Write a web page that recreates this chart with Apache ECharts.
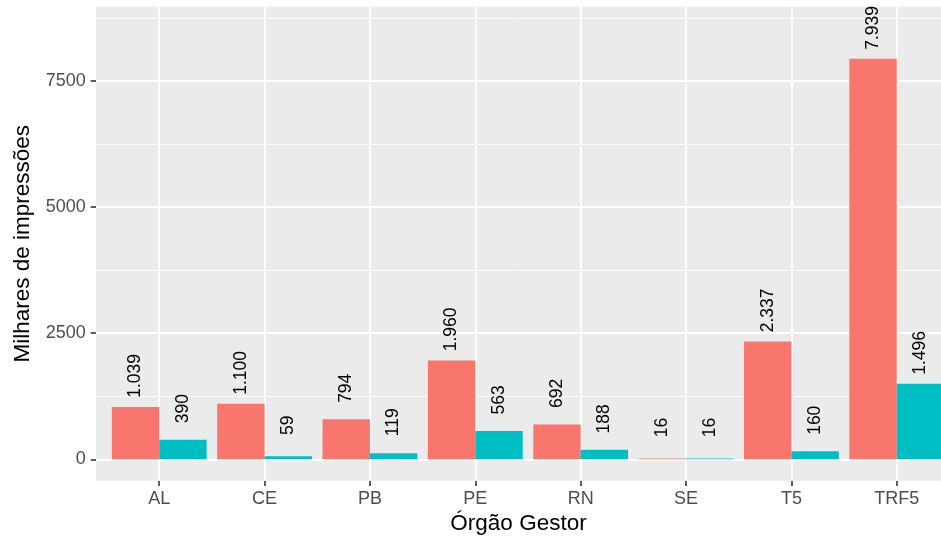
<!DOCTYPE html>
<html>
<head>
<meta charset="utf-8">
<script src="https://cdn.jsdelivr.net/npm/echarts@6/dist/echarts.min.js"></script>
<style>
  html, body { margin: 0; padding: 0; background: #fff; }
  #chart { width: 941px; height: 537px; }
</style>
</head>
<body>
<div id="chart"></div>
<script>
// dados (milhares de impressões por órgão gestor)
var categorias = ['AL', 'CE', 'PB', 'PE', 'RN', 'SE', 'T5', 'TRF5'];
var serieA = [1039, 1100, 794, 1960, 692, 16, 2337, 7939];
var serieB = [390, 59, 119, 563, 188, 16, 160, 1496];
var yTicks = [0, 2500, 5000, 7500];
var yMinor = [1250, 3750, 6250, 8750];

var fonte = '"Liberation Sans", Arial, Helvetica, sans-serif';

function milhar(v) {
  return String(v).replace(/\B(?=(\d{3})+(?!\d))/g, '.');
}

function pontos(vals) {
  return vals.map(function (v, i) { return [i, v]; });
}

var posicoes = categorias.map(function (c, i) { return i; });

var chart = echarts.init(document.getElementById('chart'), null, { renderer: 'canvas' });

// linhas de grade no estilo ggplot
var grade = [];
yTicks.forEach(function (v) {
  grade.push({ yAxis: v, lineStyle: { width: 1.8 } });
});
yMinor.forEach(function (v) {
  grade.push({ yAxis: v, lineStyle: { width: 0.9 } });
});
posicoes.forEach(function (i) {
  grade.push({ xAxis: i, lineStyle: { width: 1.8 } });
});

var rotulo = {
  show: true,
  position: 'top',
  rotate: 90,
  align: 'center',
  verticalAlign: 'middle',
  distance: 31,
  color: '#000',
  fontSize: 17.5,
  fontFamily: fonte,
  formatter: function (p) { return milhar(p.value[1]); }
};

var option = {
  animation: false,
  textStyle: { fontFamily: fonte },
  grid: {
    left: 96,
    right: 0,
    top: 6.7,
    bottom: 56.3,
    outerBoundsMode: 'none',
    containLabel: false,
    show: true,
    backgroundColor: '#EBEBEB',
    borderWidth: 0
  },
  xAxis: {
    type: 'value',
    min: -0.6,
    max: 7.42, // o painel original passa da borda direita
    name: 'Órgão Gestor',
    nameLocation: 'middle',
    nameGap: 30,
    nameTextStyle: { color: '#000', fontSize: 22.5, fontFamily: fonte },
    axisLine: { show: false, onZero: false },
    splitLine: { show: false },
    axisTick: {
      show: true,
      customValues: posicoes,
      length: 5.3,
      lineStyle: { color: '#333333', width: 1.6 }
    },
    axisLabel: {
      customValues: posicoes,
      formatter: function (v) { return categorias[Math.round(v)]; },
      color: '#4D4D4D',
      fontSize: 18,
      margin: 9,
      fontFamily: fonte
    }
  },
  yAxis: {
    type: 'value',
    min: -424,
    max: 8973,
    name: 'Milhares de impressões',
    nameLocation: 'middle',
    nameGap: 53.5,
    nameTextStyle: { color: '#000', fontSize: 22.5, fontFamily: fonte },
    axisLine: { show: false, onZero: false },
    splitLine: { show: false },
    axisTick: {
      show: true,
      customValues: yTicks,
      length: 5.3,
      lineStyle: { color: '#333333', width: 1.6 }
    },
    axisLabel: {
      customValues: yTicks,
      formatter: function (v) { return String(v); },
      color: '#4D4D4D',
      fontSize: 18,
      margin: 10.3,
      fontFamily: fonte
    }
  },
  series: [
    {
      name: 'grade',
      type: 'line',
      data: [],
      silent: true,
      z: 1,
      markLine: {
        silent: true,
        z: 1,
        symbol: 'none',
        label: { show: false },
        emphasis: { disabled: true },
        lineStyle: { color: '#FFFFFF', type: 'solid' },
        data: grade
      }
    },
    {
      name: 'A',
      type: 'bar',
      data: pontos(serieA),
      barGap: '0%',
      barCategoryGap: '10%',
      itemStyle: { color: '#F8766D' },
      label: rotulo,
      z: 3
    },
    {
      name: 'B',
      type: 'bar',
      data: pontos(serieB),
      barGap: '0%',
      barCategoryGap: '10%',
      itemStyle: { color: '#00BFC4' },
      label: rotulo,
      z: 3
    }
  ]
};

chart.setOption(option);
</script>
</body>
</html>
